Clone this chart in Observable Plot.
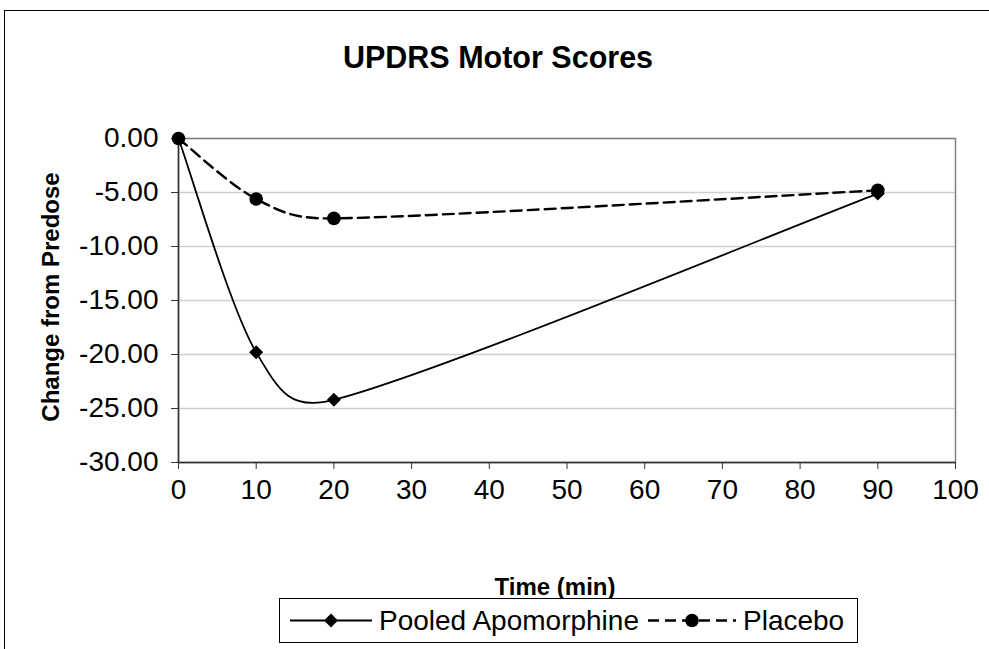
<!DOCTYPE html>
<html>
<head>
<meta charset="utf-8">
<script src="https://cdn.jsdelivr.net/npm/d3@7"></script>
<script src="https://cdn.jsdelivr.net/npm/@observablehq/plot@0.6"></script>
<style>
  html, body { margin: 0; padding: 0; background: #fff; }
  #wrap { position: relative; width: 989px; height: 649px; overflow: hidden; font-family: "Liberation Sans", Arial, sans-serif; }
  #outer { position: absolute; left: 4px; top: 10px; width: 1200px; height: 1000px; border-left: 1px solid #000; border-top: 1px solid #000; pointer-events: none; z-index: 2; }
  #chart { position: absolute; left: 0; top: 0; }
  #ylabel { position: absolute; left: -99px; top: 285px; width: 300px; height: 24px; line-height: 24px; text-align: center; font-size: 24px; font-weight: bold; color: #000; transform: rotate(-90deg); transform-origin: 150px 12px; white-space: nowrap; }
  #legend { position: absolute; left: 279px; top: 598px; width: 577px; height: 43px; border: 1px solid #000; background: #fff; z-index: 3; }
  #legend .item { position: absolute; top: 0; height: 43px; line-height: 43px; font-size: 28px; color: #000; white-space: nowrap; }
  #legend svg { position: absolute; top: 0; }
</style>
</head>
<body>
<div id="wrap">
  <div id="chart"></div>
  <div id="ylabel"></div>
  <div id="outer"></div>
  <div id="legend"></div>
</div>
<script>
// ---- data ----
const title = "UPDRS Motor Scores";
const xLabel = "Time (min)";
const yLabel = "Change from Predose";
const seriesNames = ["Pooled Apomorphine", "Placebo"];
const time = [0, 10, 20, 90];
const apomorphine = [0, -19.8, -24.2, -5.1];
const placebo = [0, -5.6, -7.4, -4.8];
const xTicks = [0, 10, 20, 30, 40, 50, 60, 70, 80, 90, 100];
const yTicks = [0, -5, -10, -15, -20, -25, -30];

const apoData = time.map((t, i) => ({time: t, value: apomorphine[i]}));
const plaData = time.map((t, i) => ({time: t, value: placebo[i]}));

// Spreadsheet-style smoothed line (Bezier, tension 1/6, handles capped at half the segment)
function smoothCurve(context) {
  let pts = [];
  return {
    areaStart() {}, areaEnd() {},
    lineStart() { pts = []; },
    point(x, y) { pts.push([+x, +y]); },
    lineEnd() {
      const n = pts.length;
      if (!n) return;
      context.moveTo(pts[0][0], pts[0][1]);
      for (let i = 0; i < n - 1; i++) {
        const p0 = pts[Math.max(i - 1, 0)], p1 = pts[i], p2 = pts[i + 1], p3 = pts[Math.min(i + 2, n - 1)];
        const d12 = Math.hypot(p2[0] - p1[0], p2[1] - p1[1]);
        const d02 = Math.hypot(p2[0] - p0[0], p2[1] - p0[1]);
        const d13 = Math.hypot(p3[0] - p1[0], p3[1] - p1[1]);
        let f0 = 1 / 6, f1 = 1 / 6;
        if (d02 > 0 && d02 / 6 > d12 / 2) f0 = d12 / (2 * d02);
        if (d13 > 0 && d13 / 6 > d12 / 2) f1 = d12 / (2 * d13);
        context.bezierCurveTo(
          p1[0] + (p2[0] - p0[0]) * f0, p1[1] + (p2[1] - p0[1]) * f0,
          p2[0] - (p3[0] - p1[0]) * f1, p2[1] - (p3[1] - p1[1]) * f1,
          p2[0], p2[1]);
      }
    }
  };
}

const font = "'Liberation Sans', Arial, sans-serif";

const chart = Plot.plot({
  width: 989,
  height: 649,
  marginLeft: 178,
  marginRight: 34,
  marginTop: 138,
  marginBottom: 187,
  style: {fontFamily: font, fontSize: "28px", background: "transparent", color: "#000", overflow: "visible"},
  x: {domain: [0, 100]},
  y: {domain: [-30, 0]},
  marks: [
    Plot.gridY(yTicks, {stroke: "#d0d0d0", strokeOpacity: 1, strokeWidth: 1.5}),
    Plot.frame({stroke: "#808080", strokeWidth: 1.5}),
    Plot.axisX(xTicks, {tickSize: 7, tickPadding: 10, stroke: "#333", fill: "#000", fontSize: 28, label: null, tickFormat: d => String(d)}),
    Plot.axisY(yTicks, {tickSize: 7, tickPadding: 13, stroke: "#333", fill: "#000", fontSize: 28, label: null, tickFormat: d => d.toFixed(2)}),
    Plot.ruleX([0], {stroke: "#333", strokeWidth: 1.5}),
    Plot.ruleY([-30], {stroke: "#333", strokeWidth: 1.5}),
    Plot.line(apoData, {x: "time", y: "value", curve: smoothCurve, stroke: "#000", strokeWidth: 1.8}),
    Plot.line(plaData, {x: "time", y: "value", curve: smoothCurve, stroke: "#000", strokeWidth: 2.4, strokeDasharray: "11,6"}),
    Plot.dot(apoData, {x: "time", y: "value", symbol: "diamond2", r: 6.3, fill: "#000", stroke: "none"}),
    Plot.dot(plaData, {x: "time", y: "value", r: 6.8, fill: "#000", stroke: "none"}),
    Plot.text([title], {frameAnchor: "top", lineAnchor: "bottom", dx: -69, dy: -71, fontSize: 30.5, fontWeight: "bold", fill: "#000"}),
    Plot.text([xLabel], {frameAnchor: "bottom", lineAnchor: "bottom", dx: -12, dy: 132, fontSize: 24, fontWeight: "bold", fill: "#000"})
  ]
});
document.getElementById("chart").appendChild(chart);
document.getElementById("ylabel").textContent = yLabel;

// ---- legend ----
const legend = d3.select("#legend");
function sample(left, width, dashed, symbol) {
  const svg = legend.append("svg").attr("width", width).attr("height", 43).style("left", left + "px");
  svg.append("line").attr("x1", 0).attr("x2", width).attr("y1", 21.5).attr("y2", 21.5)
    .attr("stroke", "#000").attr("stroke-width", dashed ? 2.4 : 1.8)
    .attr("stroke-dasharray", dashed ? "11,6" : null);
  if (symbol === "diamond") {
    svg.append("path").attr("d", d3.symbol(d3.symbolDiamond2, Math.PI * 6.3 * 6.3)())
      .attr("transform", `translate(${width / 2},21.5)`).attr("fill", "#000");
  } else {
    svg.append("circle").attr("cx", width / 2).attr("cy", 21.5).attr("r", 6.8).attr("fill", "#000");
  }
}
sample(10, 82, false, "diamond");
legend.append("div").attr("class", "item").style("left", "99px").text(seriesNames[0]);
sample(368, 88, true, "circle");
legend.append("div").attr("class", "item").style("left", "463px").text(seriesNames[1]);
</script>
</body>
</html>
